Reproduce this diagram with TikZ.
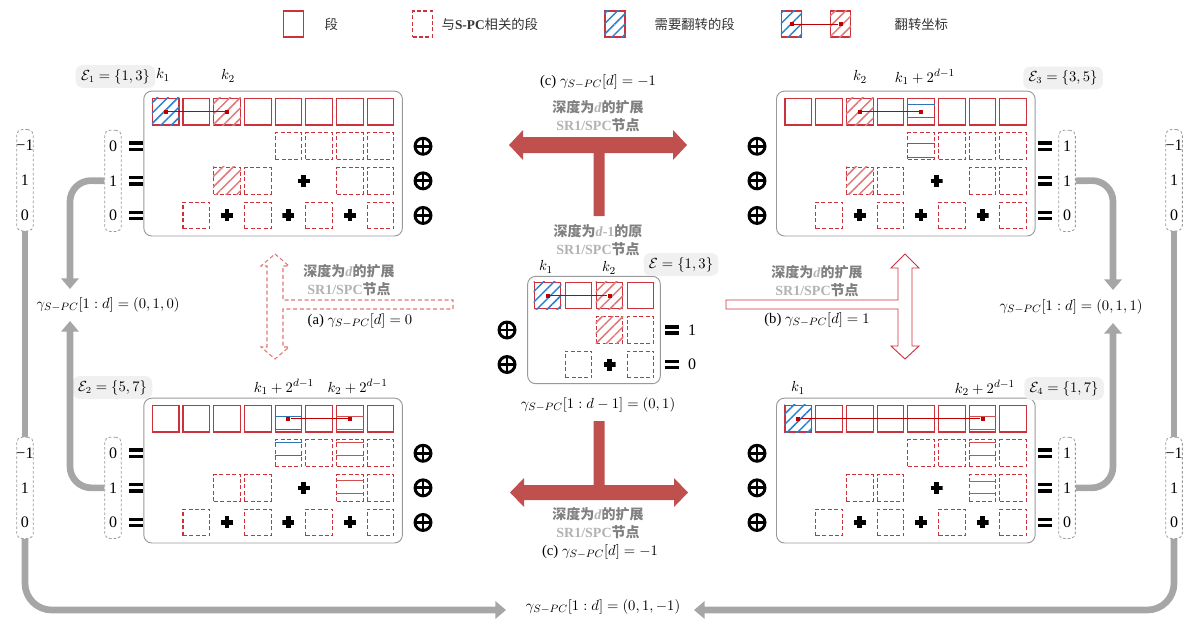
\documentclass[tikz,border=0pt]{standalone}
\usepackage{fontspec}
\setmainfont{Liberation Serif}
\newfontfamily\cjk{Noto Sans CJK SC}
\usetikzlibrary{positioning,fit,arrows.meta,patterns.meta}

\definecolor{segred}{RGB}{204,50,60}
\definecolor{hblue}{RGB}{40,130,210}
\definecolor{hred}{RGB}{225,120,120}
\definecolor{lblue}{RGB}{46,117,182}
\definecolor{lred}{RGB}{208,80,80}
\definecolor{dotred}{RGB}{192,0,0}
\definecolor{tred}{RGB}{192,80,77}

\tikzstyle{S} = [rectangle,draw=segred,line width=0.8pt,minimum size=20pt,inner sep=0pt]
\tikzstyle{D} = [S,dash pattern=on 3pt off 1.8pt]
\tikzstyle{L} = [S,minimum width=15pt,minimum height=19.5pt]
\tikzstyle{HB} = [pattern={Lines[angle=45,distance=5.5pt,line width=1.1pt]},pattern color=hblue]
\tikzstyle{HR} = [pattern={Lines[angle=45,distance=5.5pt,line width=1.1pt]},pattern color=hred]
\tikzstyle{dot} = [rectangle,fill=dotred,minimum size=3pt,inner sep=0pt]
\tikzstyle{flip} = [draw=dotred,line width=0.7pt]
\tikzstyle{frame} = [draw=black!40,line width=0.7pt,rounded corners=6pt,inner xsep=6pt,inner ysep=5pt]
\tikzstyle{xor} = [circle,draw,line width=2.2pt,minimum size=12pt,inner sep=0pt,
  path picture={\draw[line width=2.2pt] (path picture bounding box.north) -- (path picture bounding box.south)
  (path picture bounding box.west) -- (path picture bounding box.east);}]
\tikzstyle{plusb} = [minimum size=9pt,inner sep=0pt,
  path picture={\draw[line width=3.5pt] (path picture bounding box.north) -- (path picture bounding box.south)
  (path picture bounding box.west) -- (path picture bounding box.east);}]
\tikzstyle{eq} = [inner sep=0pt]
\tikzstyle{vb} = [draw=black!40,dash pattern=on 2pt off 1.5pt,line width=0.6pt,rounded corners=4pt,minimum width=12.5pt,minimum height=76pt]
\tikzstyle{val} = [font=\fontsize{12}{14}\selectfont,inner sep=0pt]
\tikzstyle{mth} = [font=\fontsize{11}{13}\selectfont]
\tikzstyle{E} = [fill=black!6,rounded corners=5pt,inner xsep=4pt,inner ysep=3pt,font=\fontsize{10.5}{12}\selectfont]
\tikzstyle{gtxt} = [font=\fontsize{10.5}{13.5}\selectfont\bfseries,text=black!50,align=center]
\tikzstyle{lgd} = [font=\fontsize{10}{12}\selectfont,text=black!80]
\tikzstyle{garr} = [draw=black!35,line width=5pt,rounded corners=16pt,-{Triangle[width=13pt,length=8pt]}]
\tikzstyle{gline} = [draw=black!35,line width=5pt]

\newcommand{\eqbar}{\vbox{\hrule width 10pt height 2.6pt\vskip 2.2pt\hrule width 10pt height 2.6pt}}
\newcommand{\dep}[1]{{\cjk 深度为}{\color{black!30}\textit{#1}}{\cjk 的扩展}}
\newcommand{\spc}{{\color{black!30}\textbf{SR1/SPC}}{\cjk 节点}}
\newcommand{\gam}{\gamma_{S{-}PC}}
\newcommand{\hlines}[4]{\draw[#2,line width=0.7pt] ([yshift=-#3pt]#1.north west) -- ([yshift=-#3pt]#1.north east)
  ([yshift=-#4pt]#1.north west) -- ([yshift=-#4pt]#1.north east);}

% segments of one depth-d node: full row on top, then the three S-PC rows
\newcommand{\segrows}[1]{%
  \foreach \i in {0,...,7} \node[S] (#10\i) at (13.35+30.7*\i,13.35) {};
  \foreach \i in {4,...,7} \node[D] (#11\i) at (13.35+30.7*\i,47.95) {};
  \foreach \i in {2,3,6,7} \node[D] (#12\i) at (13.35+30.7*\i,82.55) {};
  \node[plusb] (#12p) at (13.35+30.7*4.5,82.55) {};
  \foreach \i in {1,3,5,7} \node[D] (#13\i) at (13.35+30.7*\i,117.15) {};
  \foreach \i in {2,4,6} \node[plusb] (#13p\i) at (13.35+30.7*\i,117.15) {};
  \node[frame,fit=(#100)(#107)(#137)] (#1f) {};
}
% xor column, equal signs and the S-PC values
\newcommand{\sides}[8]{%
  \foreach \j/\vv in {1/#6,2/#7,3/#8}{
    \node[xor] (#1x\j) at (#2,#5+13.35+34.6*\j) {};
    \node[eq] (#1q\j) at (#3,#5+13.35+34.6*\j) {\eqbar};
    \node[val] (#1v\j) at (#4,#5+13.35+34.6*\j) {\vv};
  }
  \node[vb] (#1b) at (#4,#5+82.55) {};
}
\newcommand{\colbox}[3]{%
  \node[val] (#1a) at (#2,#3-34.6) {−1};
  \node[val] (#1m) at (#2,#3) {1};
  \node[val] (#1z) at (#2,#3+34.6) {0};
  \node[vb] (#1) at (#2,#3) {};
}

\begin{document}
\begin{tikzpicture}[x=0.75pt,y=-0.75pt]
	\useasboundingbox (0,0) rectangle (1184,618);
	
	% legend
	\node[L] (lg1) at (293.5,24) {};
	\node[lgd,anchor=west] (lg1t) at (320,24) {\cjk 段};
	\node[L,dash pattern=on 3pt off 1.8pt] (lg2) at (422.5,24) {};
	\node[lgd,anchor=west] (lg2t) at (437,24) {{\cjk 与}\textbf{S-PC}{\cjk 相关的段}};
	\node[L] (lg3) at (615,24) {};
	\path[HB] (lg3.south west) rectangle (lg3.north east);
	\node[lgd,anchor=west] (lg3t) at (650,24) {\cjk 需要翻转的段};
	\node[L] (lg4) at (791.5,24) {};
	\path[HB] (lg4.south west) rectangle (lg4.north east);
	\node[L] (lg5) at (840.5,24) {};
	\path[HR] (lg5.south west) rectangle (lg5.north east);
	\node[dot] (lg4d) at (lg4) {};
	\node[dot] (lg5d) at (lg5) {};
	\draw[flip] (lg4d) -- (lg5d);
	\node[lgd,anchor=west] (lg5t) at (890,24) {\cjk 翻转坐标};
	
	%%%%%%%%%%%%%%% top left
	\begin{scope}[shift={(152.3,98.3)}]
	\segrows{A}
	\end{scope}
	\path[HB] (A00.south west) rectangle (A00.north east);
	\path[HR] (A02.south west) rectangle (A02.north east);
	\path[HR] (A22.south west) rectangle (A22.north east);
	\node[dot] (A00d) at (A00) {};
	\node[dot] (A02d) at (A02) {};
	\draw[flip] (A00d) -- (A02d);
	\sides{A}{423}{136}{113}{98.3}{0}{1}{0}
	\node[E] (EA) at (115.5,76.5) {$\mathcal{E}_1=\{1,3\}$};
	\node[mth] (kA1) at (163,75) {$k_1$};
	\node[mth] (kA2) at (228,76) {$k_2$};
	
	%%%%%%%%%%%%%%% top right
	\begin{scope}[shift={(785,98.3)}]
	\segrows{B}
	\end{scope}
	\path[HR] (B02.south west) rectangle (B02.north east);
	\path[HR] (B22.south west) rectangle (B22.north east);
	\hlines{B04}{lblue}{5}{15}
	\hlines{B14}{lblue}{8.6}{18.6}
	\node[dot] (B02d) at (B02) {};
	\node[dot] (B04d) at (B04) {};
	\draw[flip] (B02d) -- (B04d);
	\sides{B}{757}{1045}{1067}{98.3}{1}{1}{0}
	\node[E] (EB) at (1063,78) {$\mathcal{E}_3=\{3,5\}$};
	\node[mth] (kB2) at (860,77) {$k_2$};
	\node[mth] (kB1) at (925,77) {$k_1+2^{d-1}$};
	
	%%%%%%%%%%%%%%% bottom left
	\begin{scope}[shift={(152.3,405.3)}]
	\segrows{C}
	\end{scope}
	\hlines{C04}{lblue}{8.8}{18.6}
	\hlines{C06}{lred}{8.8}{18.6}
	\hlines{C14}{lblue}{2}{12}
	\hlines{C16}{lred}{2}{12}
	\hlines{C26}{lred}{5}{14.6}
	\node[dot] (C04d) at (C04) {};
	\node[dot] (C06d) at (C06) {};
	\draw[flip] (C04d) -- (C06d);
	\sides{C}{423}{136}{113}{405.3}{0}{1}{0}
	\node[E] (EC) at (112.5,387.5) {$\mathcal{E}_2=\{5,7\}$};
	\node[mth] (kC1) at (284,387) {$k_1+2^{d-1}$};
	\node[mth] (kC2) at (357.6,387) {$k_2+2^{d-1}$};
	
	%%%%%%%%%%%%%%% bottom right
	\begin{scope}[shift={(785,405.3)}]
	\segrows{D}
	\end{scope}
	\path[HB] (D00.south west) rectangle (D00.north east);
	\hlines{D06}{lred}{8.8}{18.6}
	\hlines{D16}{lred}{2}{12}
	\hlines{D26}{lred}{5.6}{14.6}
	\node[dot] (D00d) at (D00) {};
	\node[dot] (D06d) at (D06) {};
	\draw[flip] (D00d) -- (D06d);
	\sides{D}{757}{1045}{1067}{405.3}{1}{1}{0}
	\node[E] (ED) at (1064,388.5) {$\mathcal{E}_4=\{1,7\}$};
	\node[mth] (kD1) at (798,388) {$k_1$};
	\node[mth] (kD2) at (985,388) {$k_2+2^{d-1}$};
	
	%%%%%%%%%%%%%%% depth d-1 node in the middle
	\node[S] (E00) at (547.5,295.5) {};
	\node[S] (E01) at (578.5,295.5) {};
	\node[S] (E02) at (609.5,295.5) {};
	\node[S] (E03) at (640.5,295.5) {};
	\node[D] (E12) at (609.5,330) {};
	\node[D] (E13) at (640.5,330) {};
	\node[D] (E21) at (578.5,364.5) {};
	\node[plusb] (E2p) at (609.5,364.5) {};
	\node[D] (E23) at (640.5,364.5) {};
	\node[frame,inner xsep=4.5pt,inner ysep=4pt,fit=(E00)(E03)(E23)] (Ef) {};
	\path[HB] (E00.south west) rectangle (E00.north east);
	\path[HR] (E02.south west) rectangle (E02.north east);
	\path[HR] (E12.south west) rectangle (E12.north east);
	\node[dot] (E00d) at (E00) {};
	\node[dot] (E02d) at (E02) {};
	\draw[flip] (E00d) -- (E02d);
	\node[xor] (Ex1) at (507,330) {};
	\node[xor] (Ex2) at (507,364.5) {};
	\node[eq] (Eq1) at (672,330) {\eqbar};
	\node[eq] (Eq2) at (672,364.5) {\eqbar};
	\node[val] (Ev1) at (692,330) {1};
	\node[val] (Ev2) at (692,364.5) {0};
	\node[E] (EE) at (681,264.5) {$\mathcal{E}=\{1,3\}$};
	\node[mth] (kE1) at (546,267) {$k_1$};
	\node[mth] (kE2) at (609,268) {$k_2$};
	\node[mth] (gc) at (598,405) {$\gam[1:d-1]=(0,1)$};
	
	%%%%%%%%%%%%%%% expansion arrows
	\fill[tred] (509,145) -- (523,130) -- (523,137) -- (673,137) -- (673,130) -- (687,145) -- (673,160)
	-- (673,153) -- (604.5,153) -- (604.5,216) -- (593.5,216) -- (593.5,153) -- (523,153) -- (523,160) -- cycle;
	\fill[tred] (510,492.5) -- (524,478) -- (524,485) -- (593.5,485) -- (593.5,421) -- (604.5,421) -- (604.5,485)
	-- (674,485) -- (674,478) -- (688,492.5) -- (674,507) -- (674,500) -- (524,500) -- (524,507) -- cycle;
	\draw[draw=hred,dash pattern=on 3pt off 2pt,line width=0.8pt] (275,254) -- (289,266) -- (283,266) -- (283,300)
	-- (453,300) -- (453,309) -- (283,309) -- (283,347) -- (289,347) -- (275,359) -- (261,347) -- (267,347)
	-- (267,266) -- (261,266) -- cycle;
	\draw[draw=segred,line width=0.7pt] (905,254) -- (919,268) -- (912,268) -- (912,346) -- (919,346) -- (905,359)
	-- (891,346) -- (898,346) -- (898,309) -- (726,309) -- (726,300) -- (898,300) -- (898,268) -- (891,268) -- cycle;
	
	\node[mth] (ct) at (598,82) {(c) $\gam[d]=-1$};
	\node[gtxt] (ctx) at (598,116.5) {\dep{d}\\\spc};
	\node[gtxt] (ctl) at (598,240) {{\cjk 深度为}{\color{black!30}\textit{d}-1}{\cjk 的原}\\\spc};
	\node[gtxt] (cbx) at (598,523.5) {\dep{d}\\\spc};
	\node[mth] (cb) at (600,552) {(c) $\gam[d]=-1$};
	\node[gtxt] (lx) at (349,280) {\dep{d}\\\spc};
	\node[mth] (la) at (360,321) {(a) $\gam[d]=0$};
	\node[gtxt] (rx) at (817,281) {\dep{d}\\\spc};
	\node[mth] (rb) at (817,320) {(b) $\gam[d]=1$};
	
	%%%%%%%%%%%%%%% resulting gammas
	\node[mth] (gl) at (108,305) {$\gam[1:d]=(0,1,0)$};
	\node[mth] (gr) at (1071,307) {$\gam[1:d]=(0,1,1)$};
	\node[mth] (gb) at (603,607) {$\gam[1:d]=(0,1,-1)$};
	\colbox{F1}{25}{180.25}
	\colbox{F2}{25}{487.85}
	\colbox{F3}{1174}{180.25}
	\colbox{F4}{1174}{487.85}
	
	\draw[garr] (Ab.west |- Av2) -- (70,180.25) -- (70,289);
	\draw[garr] (Cb.west |- Cv2) -- (70,487.85) -- (70,321);
	\draw[garr] (Bb.east |- Bv2) -- (1113,180.25) -- (1113,290);
	\draw[garr] (Db.east |- Dv2) -- (1113,487.85) -- (1113,323);
	\draw[gline] (F1.south) -- (F2.north);
	\draw[gline] (F3.south) -- (F4.north);
	\draw[garr,rounded corners=20pt] (F2.south) -- (25,610) -- (506,610);
	\draw[garr,rounded corners=20pt] (F4.south) -- (1174,610) -- (694,610);
	
\end{tikzpicture}
\end{document}
